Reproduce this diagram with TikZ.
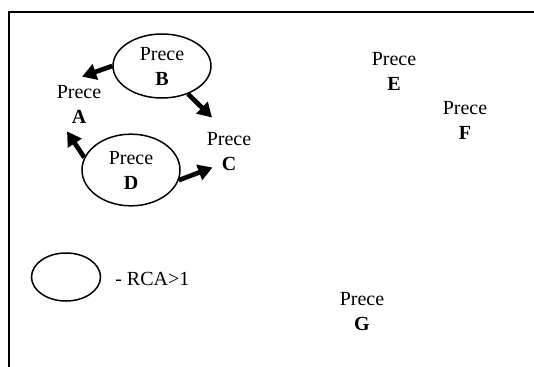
\documentclass[tikz,border=0pt]{standalone}
\usepackage{fontspec}
\setmainfont{Liberation Serif}
\usetikzlibrary{shapes.geometric,arrows.meta}
\begin{document}
\begin{tikzpicture}[x=0.6pt,y=-0.6pt,
  lbl/.style={align=center,inner sep=0pt,font=\fontsize{12}{15}\selectfont},
  oval/.style={ellipse,draw,line width=0.9pt,inner sep=0pt,align=center,font=\fontsize{12}{15}\selectfont},
  arr/.style={line width=2.8pt,-{Triangle[length=8.5pt,width=9.5pt]}},
  frame/.style={line width=1.3pt}]
\useasboundingbox (0,0) rectangle (534,367);
% frame lines (top and left)
\draw[frame] (8,12) -- (534,12);
\draw[frame] (9,12) -- (9,367);

% encircled items
\node[oval,minimum width=58.8pt,minimum height=38.4pt] (B) at (162,66) {Prece\\\textbf{B}};
\node[oval,minimum width=58.8pt,minimum height=43pt] (D) at (131,170) {Prece\\\textbf{D}};

% plain items
\node[lbl] (A) at (79,104) {Prece\\\textbf{A}};
\node[lbl] (C) at (229,152) {Prece\\\textbf{C}};
\node[lbl] (E) at (394,71) {Prece\\\textbf{E}};
\node[lbl] (F) at (465,120) {Prece\\\textbf{F}};
\node[lbl] (G) at (362,312) {Prece\\\textbf{G}};

% arrows
\draw[arr] (B.west) -- ([shift={(3,-8)}]A.north);
\draw[arr] (B.-47) -- ([shift={(-17,-15)}]C.north);
\draw[arr] (D.165) -- ([shift={(-12,8)}]A.south);
\draw[arr] (D.-12) -- ([shift={(6,-4)}]C.south west);

% legend
\node[ellipse,draw,line width=0.9pt,minimum width=41.4pt,minimum height=28.8pt,inner sep=0pt] (key) at (66,277) {};
\node[lbl,anchor=west] (keytext) at (115,279) {- RCA>1};
\end{tikzpicture}
\end{document}
